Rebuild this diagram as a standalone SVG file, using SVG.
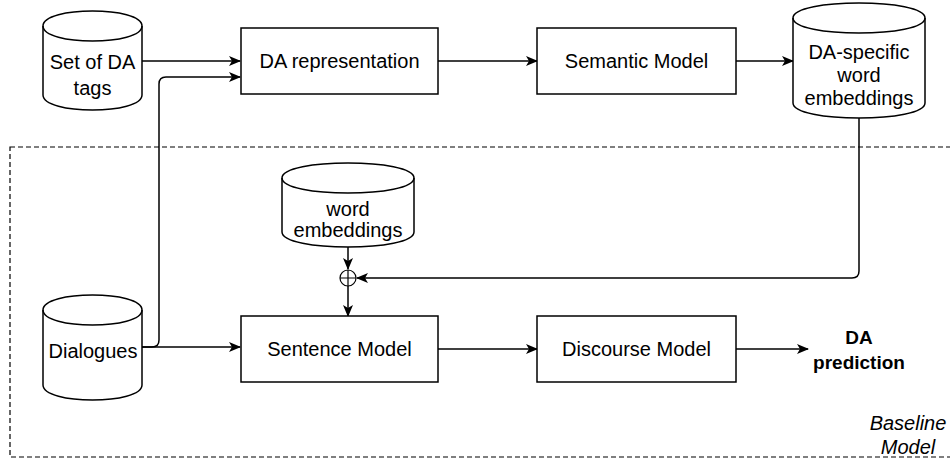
<svg xmlns="http://www.w3.org/2000/svg" width="950" height="461" viewBox="0 0 950 461">
<style>
.shape{fill:#fff;stroke:#000;stroke-width:1.5}
.line{fill:none;stroke:#000;stroke-width:1.5}
.t{font-family:"Liberation Sans",Arial,sans-serif;font-size:20px;fill:#000;text-anchor:middle}
.b{font-weight:bold;font-size:19px}
.i{font-style:italic}
</style>
<defs>
<marker id="arr" viewBox="0 0 12 10" refX="11" refY="5" markerWidth="12" markerHeight="10" markerUnits="userSpaceOnUse" orient="auto">
<path d="M0,0 L12,5 L0,10 L3,5 Z" fill="#000"/>
</marker>
</defs>
<rect x="10" y="147" width="960" height="310" fill="none" stroke="#000" stroke-width="1.2" stroke-dasharray="5,3"/>
<g id="connectors">
<path class="line" d="M142,61 L240,61" marker-end="url(#arr)"/>
<path class="line" d="M142,347 L152,347 Q159,347 159,340 L159,84 Q159,77 166,77 L240,77" marker-end="url(#arr)"/>
<path class="line" d="M438,61 L537,61" marker-end="url(#arr)"/>
<path class="line" d="M736,61 L793,61" marker-end="url(#arr)"/>
<path class="line" d="M859,118 L859,271 Q859,278 852,278 L357,278" marker-end="url(#arr)"/>
<path class="line" d="M348,247 L348,269" marker-end="url(#arr)"/>
<path class="line" d="M348,286 L348,316" marker-end="url(#arr)"/>
<path class="line" d="M142,347 L240,347" marker-end="url(#arr)"/>
<path class="line" d="M438,349 L537,349" marker-end="url(#arr)"/>
<path class="line" d="M736,349 L808,349" marker-end="url(#arr)"/>
</g>
<g id="oplus">
<circle cx="348" cy="278" r="8" fill="#fff" stroke="#000" stroke-width="1.2"/>
<path d="M340,278 L356,278 M348,270 L348,286" stroke="#000" stroke-width="1.2"/>
</g>
<g id="set-of-da-tags">
<path class="shape" d="M43,26 C43,6 142,6 142,26 L142,95 C142,115 43,115 43,95 Z"/>
<path class="line" d="M43,26 C43,46 142,46 142,26"/>
<text class="t" x="92.5" y="69">Set of DA</text>
<text class="t" x="92.5" y="95">tags</text>
</g>
<g id="da-representation">
<rect class="shape" x="241" y="28" width="197" height="66"/>
<text class="t" x="339.5" y="68">DA representation</text>
</g>
<g id="semantic-model">
<rect class="shape" x="537" y="28" width="199" height="66"/>
<text class="t" x="636.5" y="68">Semantic Model</text>
</g>
<g id="da-specific-word-embeddings">
<path class="shape" d="M793,18 C793,-2 925,-2 925,18 L925,103 C925,123 793,123 793,103 Z"/>
<path class="line" d="M793,18 C793,38 925,38 925,18"/>
<text class="t" x="859" y="59">DA-specific</text>
<text class="t" x="859" y="82">word</text>
<text class="t" x="859" y="105">embeddings</text>
</g>
<g id="word-embeddings">
<path class="shape" d="M282,178 C282,158 414,158 414,178 L414,232 C414,252 282,252 282,232 Z"/>
<path class="line" d="M282,178 C282,198 414,198 414,178"/>
<text class="t" x="348" y="216">word</text>
<text class="t" x="348" y="237">embeddings</text>
</g>
<g id="dialogues">
<path class="shape" d="M43,310 C43,290 142,290 142,310 L142,385 C142,405 43,405 43,385 Z"/>
<path class="line" d="M43,310 C43,330 142,330 142,310"/>
<text class="t" x="93" y="358">Dialogues</text>
</g>
<g id="sentence-model">
<rect class="shape" x="241" y="316" width="197" height="66"/>
<text class="t" x="339.5" y="356">Sentence Model</text>
</g>
<g id="discourse-model">
<rect class="shape" x="537" y="316" width="199" height="66"/>
<text class="t" x="636.5" y="356">Discourse Model</text>
</g>
<g id="da-prediction">
<text class="t b" x="859" y="344">DA</text>
<text class="t b" x="859" y="369">prediction</text>
</g>
<g id="baseline-model-label">
<text class="t i" x="908" y="430">Baseline</text>
<text class="t i" x="908" y="454">Model</text>
</g>
</svg>
